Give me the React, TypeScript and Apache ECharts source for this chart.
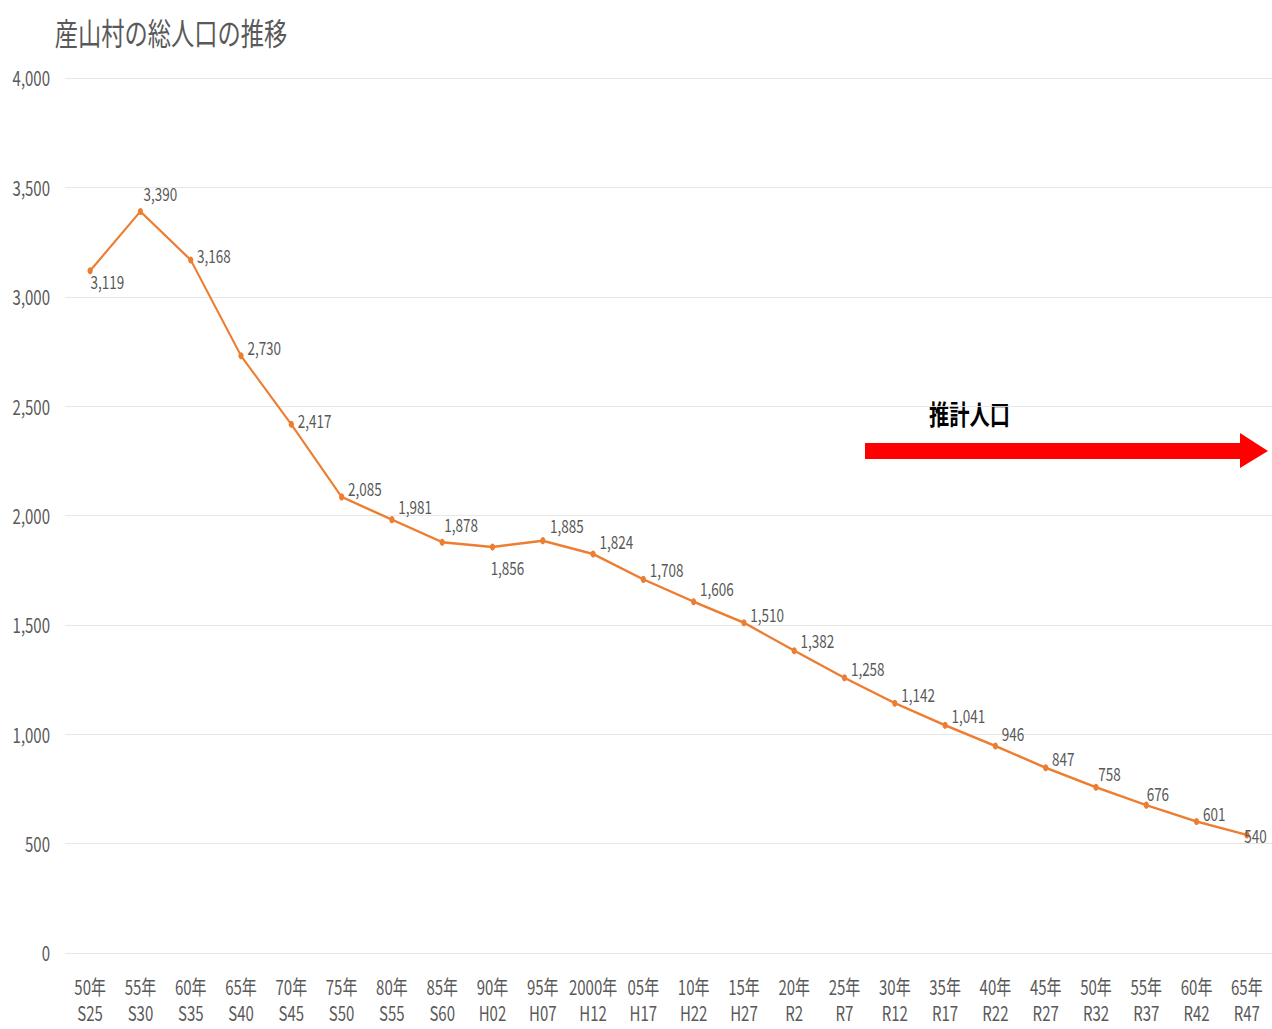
import React, { useEffect, useRef } from "react";
import * as echarts from "echarts";

const yearLabels = ["50年","55年","60年","65年","70年","75年","80年","85年","90年","95年","2000年","05年","10年","15年","20年","25年","30年","35年","40年","45年","50年","55年","60年","65年"];
const eraLabels = ["S25","S30","S35","S40","S45","S50","S55","S60","H02","H07","H12","H17","H22","H27","R2","R7","R12","R17","R22","R27","R32","R37","R42","R47"];
const population = [3119,3390,3168,2730,2417,2085,1981,1878,1856,1885,1824,1708,1606,1510,1382,1258,1142,1041,946,847,758,676,601,540];
const yTicks = [0, 500, 1000, 1500, 2000, 2500, 3000, 3500, 4000];

// horizontal condensing factor (reference uses a condensed typeface)
const S = 0.75;
const W = 1272 / S;
const H = 1029;

// label placement per point: [position, offsetX (screen px), offsetY]
const labelPlacement: [string, number, number][] = [
  ["right", -6, 11], ["top", 20, 0], ["right", 0, -4], ["right", 0, -8], ["right", 0, -4],
  ["right", 0, -8], ["right", 0, -13], ["top", 19, 0], ["bottom", 15, 3], ["top", 24, 2],
  ["right", 0, -12], ["right", 0, -10], ["right", 0, -13], ["right", 0, -8], ["right", 0, -10],
  ["right", 0, -9], ["right", 0, -9], ["right", 0, -10], ["right", 0, -12], ["right", 0, -9],
  ["right", -4, -14], ["right", -6, -11], ["right", 0, -8], ["right", -9, 1],
];

const FONT = "'Noto Sans CJK JP', 'Noto Sans', sans-serif";
const GREY = "#595959";

export default function App() {
  const ref = useRef<HTMLDivElement>(null);
  useEffect(() => {
    const chart = echarts.init(ref.current!, undefined, { renderer: "svg" });
    const sx = (x: number) => x / S;
    chart.setOption({
      animation: false,
      backgroundColor: "#fff",
      title: {
        text: "産山村の総人口の推移",
        left: sx(51),
        top: 11,
        textStyle: { color: GREY, fontSize: 31, fontWeight: "normal", fontFamily: FONT },
      },
      grid: { left: sx(65), right: 0, top: 78, bottom: 76, containLabel: false, outerBoundsMode: "none" },
      xAxis: {
        type: "category",
        data: yearLabels.map((y, i) => "{a|" + y + "}\n{b|" + eraLabels[i] + "}"),
        axisLine: { show: false },
        axisTick: { show: false },
        axisLabel: {
          interval: 0,
          margin: 16,
          formatter: (v: string) => v,
          rich: {
            a: { color: GREY, fontSize: 20, lineHeight: 36, fontFamily: FONT },
            b: { color: GREY, fontSize: 20, lineHeight: 16, fontFamily: FONT },
          },
        },
      },
      yAxis: {
        type: "value",
        min: yTicks[0],
        max: yTicks[yTicks.length - 1],
        interval: 500,
        axisLine: { show: false },
        axisTick: { show: false },
        splitLine: { lineStyle: { color: "#e3e3e3", width: 1 } },
        axisLabel: {
          color: GREY,
          fontSize: 20,
          margin: sx(15),
          fontFamily: FONT,
          formatter: (v: number) => v.toLocaleString("en-US"),
        },
      },
      series: [
        {
          type: "line",
          data: population.map((v, i) => ({
            value: v,
            label: {
              position: labelPlacement[i][0],
              offset: [sx(labelPlacement[i][1]), labelPlacement[i][2]],
            },
          })),
          symbol: "circle",
          symbolSize: 7,
          itemStyle: { color: "#ED7D31" },
          lineStyle: { color: "#ED7D31", width: 2.5 },
          label: {
            show: true,
            color: GREY,
            fontSize: 18,
            distance: 5,
            fontFamily: FONT,
            formatter: (p: any) => Number(p.value).toLocaleString("en-US"),
          },
        },
      ],
      graphic: [
        {
          type: "polygon",
          shape: {
            points: [
              [sx(865), 443], [sx(1240), 443], [sx(1240), 433], [sx(1268), 451],
              [sx(1240), 468], [sx(1240), 459], [sx(865), 459],
            ],
          },
          style: { fill: "#FF0000" },
        },
        {
          type: "text",
          x: sx(929),
          y: 400,
          style: {
            text: "推計人口",
            fill: "#000",
            fontSize: 27,
            fontWeight: "bold",
            fontFamily: FONT,
          },
        },
      ],
    });
    return () => chart.dispose();
  }, []);
  return (
    <div style={{ position: "absolute", left: 0, top: 0, width: 1272, height: H, overflow: "hidden", background: "#fff" }}>
      <div ref={ref} style={{ width: W, height: H, transform: `scaleX(${S})`, transformOrigin: "0 0" }} />
    </div>
  );
}
